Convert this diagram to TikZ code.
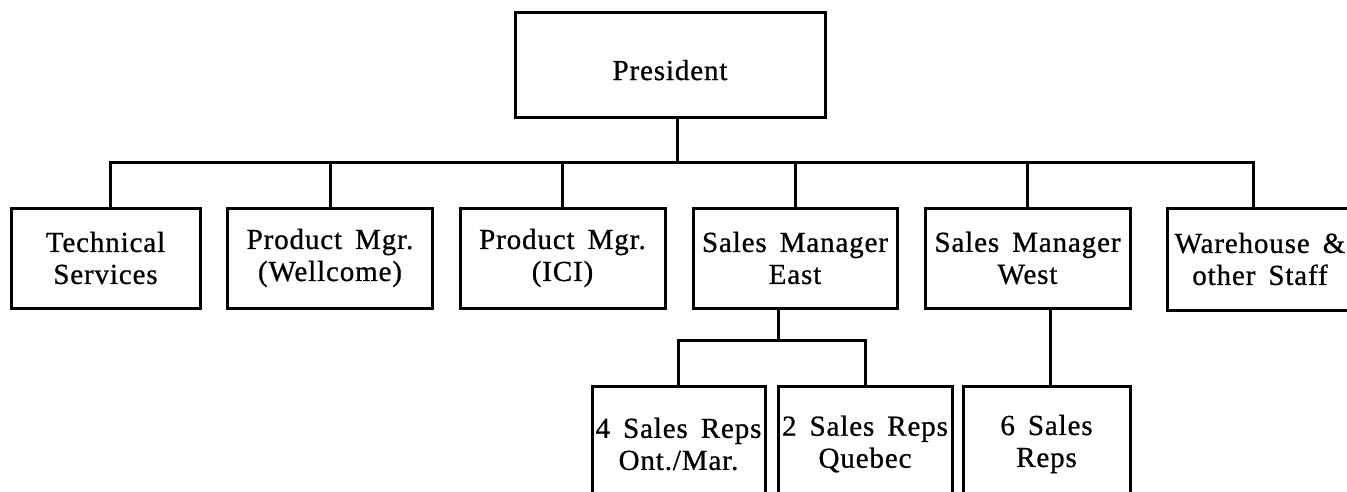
\documentclass[tikz,border=0pt]{standalone}
\usepackage{fontspec}
\setmainfont{Liberation Serif}[LetterSpace=3,WordSpace=1.6,FakeBold=0.8]
\begin{document}
\begin{tikzpicture}[x=1pt,y=-1pt,
  box/.style={draw,line width=3pt,rectangle,align=center,inner sep=0pt,
    font=\fontsize{29}{32}\selectfont},
  link/.style={line width=3pt,line join=miter}]
\useasboundingbox (0,0) rectangle (1347,491);
\clip (0,0) rectangle (1347,491);

% top of the chart
\node[box,minimum width=310pt,minimum height=105pt,text height=31pt,text depth=0pt]
  (pres) at (670,64.5) {President};

% first level
\node[box,minimum width=189pt,minimum height=100pt] (tech) at (105.5,258) {Technical\\Services};
\node[box,minimum width=205pt,minimum height=100pt] (well) at (330,258) {Product Mgr.\\(Wellcome)};
\node[box,minimum width=205pt,minimum height=100pt] (ici)  at (562.5,258) {Product Mgr.\\(ICI)};
\node[box,minimum width=204pt,minimum height=100pt] (east) at (795,258) {Sales Manager\\East};
\node[box,minimum width=205pt,minimum height=100pt] (west) at (1027.5,258) {Sales Manager\\West};
\node[box,minimum width=186pt,minimum height=102pt] (ware) at (1260,259) {Warehouse \&\\other Staff};

% second level
\node[box,minimum width=173pt,minimum height=116pt] (repsA) at (678.5,444) {4 Sales Reps\\Ont./Mar.};
\node[box,minimum width=174pt,minimum height=116pt] (repsB) at (865,444) {2 Sales Reps\\Quebec};
\node[box,minimum width=167pt,minimum height=116pt] (repsC) at (1046.5,444) {6 Sales\\Reps};

% junction points of the connector lines
\coordinate (hub)   at (677,162);
\coordinate (barL)  at (110,162);
\coordinate (barR)  at (1253,162);
\coordinate (eastJ) at (778,340);
\coordinate (westJ) at (1050,340);

% president to the first level
\draw[link] (hub |- pres.south) -- (hub);
\draw[link] (barL |- tech.north) -- (barL) -- (barR) -- (barR |- ware.north);
\foreach \n in {well,ici,east,west}
  \draw[link] (\n.north |- hub) -- (\n.north);

% sales managers to their reps
\draw[link] (eastJ |- east.south) -- (eastJ);
\draw[link] (repsA.north) -- (repsA.north |- eastJ) -- (repsB.north |- eastJ) -- (repsB.north);
\draw[link] (westJ |- west.south) -- (westJ |- repsC.north);
\end{tikzpicture}
\end{document}
